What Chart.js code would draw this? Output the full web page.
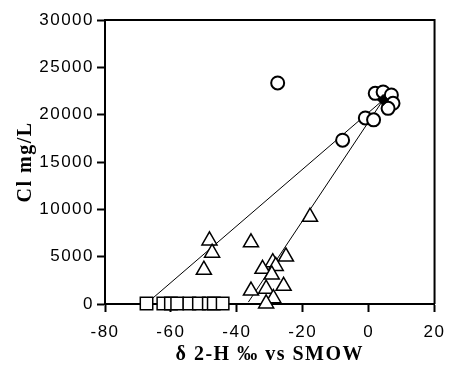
<!DOCTYPE html>
<html>
<head>
<meta charset="utf-8">
<script src="https://cdn.jsdelivr.net/npm/chart.js@4"></script>
<style>
  html, body { margin: 0; padding: 0; background: #fff; }
  #wrap { width: 454px; height: 370px; }
</style>
</head>
<body>
<div id="wrap"><canvas id="myChart"></canvas></div>
<script>
// delta 2-H (per mil vs SMOW) and Cl (mg/L)
const triX = [-17.8, -48.3, -47.5, -50, -35.7, -25.1, -29.1, -28.2, -32.2, -29.4, -25.8, -35.7, -31.1, -28.9, -31.1];
const triY = [9200, 6700, 5400, 3600, 6500, 5000, 4400, 4000, 3700, 3100, 1900, 1400, 1600, 600, 50];

const sqX = [-67.4, -62.3, -60, -58.1, -54.4, -51.5, -48.5, -47, -44.3];
const sqY = [50, 50, 50, 50, 50, 50, 50, 50, 50];

const circX = [-27.6, -7.9, -1.0, 1.5, 2.0, 4.4, 6.9, 7.4, 5.9];
const circY = [23350, 17300, 19650, 19450, 22250, 22400, 22080, 21200, 20670];

const seaX = [4.4];
const seaY = [21550];

// mixing lines: end members
const lineAX = [-67.4, 4.4];
const lineAY = [50, 21550];
const lineBX = [-36.5, 4.4];
const lineBY = [200, 21550];

const xTicks = [-80, -60, -40, -20, 0, 20];
const yTicks = [0, 5000, 10000, 15000, 20000, 25000, 30000];

const pts = (xs, ys) => xs.map((x, i) => ({ x: x, y: ys[i] }));

const frame = {
  id: 'frame',
  beforeDraw(chart) {
    chart.ctx.letterSpacing = '1.5px';
  },
  afterDraw(chart) {
    const { ctx, chartArea: a } = chart;
    ctx.save();
    ctx.strokeStyle = '#000';
    ctx.lineWidth = 2;
    ctx.beginPath();
    ctx.moveTo(a.left, a.top);
    ctx.lineTo(a.right, a.top);
    ctx.lineTo(a.right, a.bottom);
    ctx.stroke();
    ctx.restore();
  }
};

const ctx = document.getElementById('myChart');

new Chart(ctx, {
  type: 'scatter',
  plugins: [frame],
  data: {
    datasets: [
      {
        label: 'line A', type: 'line', data: pts(lineAX, lineAY),
        borderColor: '#000', borderWidth: 1, pointRadius: 0, fill: false, order: 5
      },
      {
        label: 'line B', type: 'line', data: pts(lineBX, lineBY),
        borderColor: '#000', borderWidth: 1, pointRadius: 0, fill: false, order: 5
      },
      {
        label: 'triangles', data: pts(triX, triY), clip: false,
        pointStyle: 'triangle', pointRadius: 8.7,
        backgroundColor: '#fff', borderColor: '#000', borderWidth: 1.5, order: 3
      },
      {
        label: 'squares', data: pts(sqX, sqY), clip: false,
        pointStyle: 'rect', pointRadius: 8.8,
        backgroundColor: '#fff', borderColor: '#000', borderWidth: 1.5, order: 2
      },
      {
        label: 'circles', data: pts(circX, circY), clip: false,
        pointStyle: 'circle', pointRadius: 6.5,
        backgroundColor: '#fff', borderColor: '#000', borderWidth: 2, order: 4
      },
      {
        label: 'seawater', data: pts(seaX, seaY), clip: false,
        pointStyle: 'rectRot', pointRadius: 5.5,
        backgroundColor: '#000', borderColor: '#000', borderWidth: 1, order: 1
      }
    ]
  },
  options: {
    responsive: true,
    maintainAspectRatio: false,
    animation: false,
    layout: { padding: { left: 0, right: 11, top: 20, bottom: 0 } },
    plugins: {
      legend: { display: false },
      tooltip: { enabled: false }
    },
    scales: {
      x: {
        type: 'linear',
        min: -80, max: 20,
        afterBuildTicks: (s) => { s.ticks = xTicks.map(v => ({ value: v })); },
        afterFit: (s) => { s.height = 66; },
        border: { color: '#000', width: 2 },
        grid: { drawOnChartArea: false, color: '#000', tickLength: 8, tickWidth: 2 },
        ticks: {
          color: '#000', padding: 10, maxRotation: 0,
          font: { family: 'Liberation Sans', size: 17 }
        },
        title: {
          display: true, text: 'δ 2-H ‰ vs SMOW', color: '#000',
          padding: { top: 0, bottom: 3 },
          font: { family: 'Liberation Serif', size: 20, weight: 'bold' }
        }
      },
      y: {
        type: 'linear',
        min: 0, max: 30000,
        afterBuildTicks: (s) => { s.ticks = yTicks.map(v => ({ value: v })); },
        afterFit: (s) => { s.width = 105; },
        border: { color: '#000', width: 2 },
        grid: { drawOnChartArea: false, color: '#000', tickLength: 8, tickWidth: 2 },
        ticks: {
          color: '#000', padding: 3,
          font: { family: 'Liberation Sans', size: 17 },
          callback: (v) => String(v)
        },
        title: {
          display: true, text: 'Cl mg/L', color: '#000',
          padding: { top: 14, bottom: 0 },
          font: { family: 'Liberation Serif', size: 20, weight: 'bold' }
        }
      }
    }
  }
});
</script>
</body>
</html>
